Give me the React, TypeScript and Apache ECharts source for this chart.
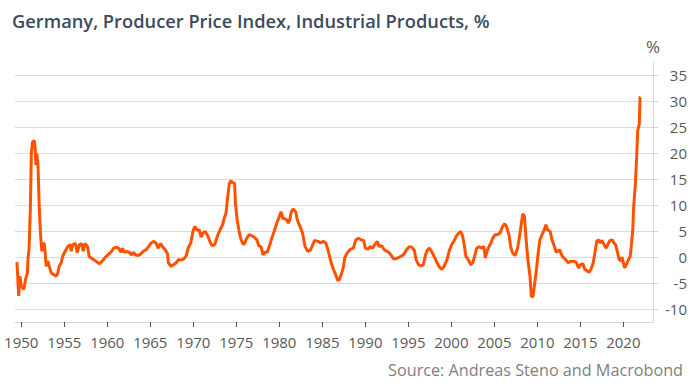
import React, { useEffect, useRef } from "react";
import * as echarts from "echarts";

const titleText = "Germany, Producer Price Index, Industrial Products, %";
const sourceText = "Source: Andreas Steno and Macrobond";
const yAxisName = "%";

const xTicks = [1950, 1955, 1960, 1965, 1970, 1975, 1980, 1985, 1990, 1995, 2000, 2005, 2010, 2015, 2020];
const yTicks = [-10, -5, 0, 5, 10, 15, 20, 25, 30, 35];

const years = [
  1949.5, 1949.7, 1949.85, 1950.0, 1950.3, 1950.5, 1950.7, 1950.8, 1950.9, 1951.05,
  1951.17, 1951.3, 1951.5, 1951.6, 1951.7, 1951.8, 1951.95, 1952.1, 1952.25, 1952.4,
  1952.55, 1952.7, 1952.9, 1953.1, 1953.25, 1953.5, 1953.8, 1954.0, 1954.2, 1954.4,
  1954.65, 1954.8, 1955.1, 1955.4, 1955.7, 1955.8, 1956.0, 1956.3, 1956.5, 1956.75,
  1957.0, 1957.2, 1957.4, 1957.7, 1957.9, 1958.2, 1958.5, 1958.85, 1959.1, 1959.4,
  1959.8, 1960.2, 1960.5, 1960.75, 1961.0, 1961.3, 1961.6, 1961.75, 1962.0, 1962.3,
  1962.55, 1962.8, 1963.0, 1963.3, 1963.6, 1963.9, 1964.2, 1964.5, 1964.8, 1965.1,
  1965.4, 1965.7, 1965.9, 1966.2, 1966.45, 1966.75, 1967.0, 1967.1, 1967.4, 1967.7,
  1968.0, 1968.3, 1968.65, 1969.0, 1969.2, 1969.4, 1969.7, 1970.0, 1970.2, 1970.4,
  1970.7, 1970.9, 1971.1, 1971.4, 1971.7, 1972.0, 1972.2, 1972.5, 1972.8, 1973.1,
  1973.4, 1973.6, 1973.8, 1974.0, 1974.2, 1974.4, 1974.5, 1974.8, 1974.9, 1975.1,
  1975.3, 1975.5, 1975.8, 1976.0, 1976.2, 1976.5, 1976.8, 1977.1, 1977.4, 1977.6,
  1977.9, 1978.1, 1978.3, 1978.6, 1978.9, 1979.2, 1979.4, 1979.7, 1980.0, 1980.2,
  1980.4, 1980.7, 1980.9, 1981.05, 1981.2, 1981.4, 1981.6, 1981.9, 1982.1, 1982.4,
  1982.7, 1983.0, 1983.3, 1983.6, 1983.8, 1984.1, 1984.5, 1984.8, 1985.1, 1985.4,
  1985.6, 1985.85, 1986.1, 1986.3, 1986.55, 1986.8, 1987.0, 1987.25, 1987.45, 1987.6,
  1987.9, 1988.2, 1988.6, 1988.9, 1989.2, 1989.5, 1989.8, 1990.0, 1990.3, 1990.55,
  1990.85, 1991.1, 1991.4, 1991.6, 1991.9, 1992.2, 1992.5, 1992.8, 1993.1, 1993.3,
  1993.65, 1993.96, 1994.3, 1994.5, 1994.8, 1995.1, 1995.4, 1995.7, 1995.9, 1996.2,
  1996.4, 1996.75, 1997.0, 1997.2, 1997.45, 1997.7, 1998.0, 1998.3, 1998.6, 1998.9,
  1999.15, 1999.5, 1999.8, 2000.05, 2000.3, 2000.55, 2000.8, 2001.1, 2001.3, 2001.5,
  2001.7, 2002.0, 2002.25, 2002.5, 2002.7, 2002.95, 2003.25, 2003.5, 2003.8, 2003.95,
  2004.1, 2004.3, 2004.6, 2004.8, 2005.1, 2005.35, 2005.66, 2005.97, 2006.2, 2006.4,
  2006.7, 2006.9, 2007.1, 2007.4, 2007.7, 2007.9, 2008.1, 2008.3, 2008.5, 2008.7,
  2008.9, 2009.15, 2009.3, 2009.5, 2009.7, 2009.9, 2010.1, 2010.3, 2010.5, 2010.8,
  2011.0, 2011.2, 2011.5, 2011.7, 2011.9, 2012.2, 2012.4, 2012.6, 2012.9, 2013.1,
  2013.3, 2013.6, 2013.9, 2014.2, 2014.5, 2014.8, 2015.0, 2015.3, 2015.5, 2015.8,
  2016.05, 2016.3, 2016.5, 2016.7, 2016.9, 2017.1, 2017.3, 2017.5, 2017.75, 2018.0,
  2018.2, 2018.45, 2018.7, 2018.9, 2019.1, 2019.3, 2019.5, 2019.7, 2019.85, 2020.0,
  2020.15, 2020.4, 2020.6, 2020.8, 2020.9, 2021.1, 2021.2, 2021.4, 2021.55, 2021.67,
  2021.86, 2021.94, 2022.0,
];

const ppi = [
  -1.0, -7.5, -3.7, -5.6, -6.2, -4.3, -3.1, 0.1, 1.4, 9.0,
  19.9, 22.1, 22.4, 21.2, 17.7, 19.9, 17.3, 9.1, 4.0, 1.1,
  2.7, 2.4, -1.8, -0.8, -1.8, -3.1, -3.4, -3.7, -3.4, -1.8,
  -1.1, 0.1, 1.1, 2.0, 2.4, 1.1, 2.4, 2.6, 0.8, 2.4,
  2.6, 1.1, 2.6, 2.0, 0.1, -0.3, -0.6, -1.0, -1.3, -0.8,
  0.0, 0.6, 1.1, 1.7, 1.9, 1.7, 0.9, 1.7, 0.9, 1.1,
  0.9, 0.4, 0.9, 0.4, 0.3, 0.6, 1.1, 1.4, 2.0, 2.7,
  3.0, 2.6, 1.7, 2.6, 1.9, 1.4, 0.6, -1.1, -1.8, -1.5,
  -1.1, -0.5, -0.6, -0.2, 0.3, 1.7, 2.7, 5.2, 5.9, 5.2,
  5.2, 3.8, 4.6, 4.9, 4.0, 2.7, 2.2, 2.4, 4.0, 5.2,
  6.2, 7.5, 8.4, 11.6, 14.2, 14.7, 14.3, 14.2, 10.3, 7.1,
  5.2, 3.6, 2.4, 2.7, 3.6, 4.3, 4.1, 3.8, 3.3, 2.2,
  1.9, 0.4, 0.9, 0.9, 2.4, 4.0, 4.9, 6.5, 7.8, 8.7,
  7.5, 7.3, 7.1, 6.5, 7.1, 8.7, 9.2, 8.7, 7.1, 5.9,
  4.6, 2.0, 1.1, 1.3, 2.0, 3.2, 3.0, 2.7, 3.0, 2.7,
  1.7, 0.1, -1.5, -2.4, -3.4, -4.5, -4.3, -3.1, -2.0, -0.2,
  0.8, 1.4, 1.7, 3.3, 3.6, 3.3, 3.2, 1.7, 1.5, 2.0,
  1.7, 2.4, 3.0, 2.0, 2.2, 1.4, 1.1, 0.8, 0.1, -0.4,
  -0.3, 0.0, 0.25, 0.6, 1.4, 2.0, 1.9, 1.3, -0.5, -1.5,
  -1.7, -1.5, 0.4, 1.3, 1.7, 1.1, 0.1, -1.0, -1.9, -2.4,
  -1.8, -0.5, 1.4, 2.4, 3.0, 3.9, 4.5, 4.9, 4.1, 2.4,
  0.1, -0.6, -1.5, -1.1, 0.1, 1.7, 2.0, 1.7, 2.0, -0.2,
  0.9, 1.7, 2.7, 3.6, 4.3, 4.3, 4.6, 5.9, 6.4, 5.9,
  4.3, 2.0, 0.9, 0.25, 1.7, 3.6, 5.9, 8.3, 7.8, 3.3,
  -0.5, -3.7, -7.6, -7.6, -5.0, -2.4, 0.8, 3.3, 4.1, 5.2,
  6.2, 5.2, 4.9, 3.3, 2.4, 0.9, 1.1, 1.4, 0.1, -0.2,
  -0.5, -1.1, -0.8, -0.8, -1.0, -2.1, -1.5, -1.3, -2.3, -2.7,
  -2.9, -2.1, -1.1, 0.8, 3.0, 3.3, 2.7, 3.2, 2.4, 1.7,
  2.4, 3.2, 3.3, 2.7, 2.4, 1.1, -0.4, -0.8, 0.0, -1.1,
  -2.1, -1.3, -0.5, 0.1, 1.7, 5.2, 9.7, 14.1, 19.2, 24.3,
  25.6, 30.7, 30.8,
];

const FONT = "'Open Sans', 'Noto Sans', sans-serif";

export default function App() {
  const ref = useRef<HTMLDivElement>(null);

  useEffect(() => {
    if (!ref.current) return;
    const chart = echarts.init(ref.current, undefined, { renderer: "svg" });
    const data = years.map((y, i) => [y, ppi[i]]);
    chart.setOption({
      animation: false,
      backgroundColor: "#ffffff",
      title: {
        text: titleText,
        left: 7,
        top: 6,
        textStyle: {
          fontFamily: FONT,
          fontSize: 18.3,
          fontWeight: 600,
          color: "#3c4a5d",
        },
      },
      graphic: [
        {
          type: "text",
          right: 7,
          top: 362,
          style: {
            text: sourceText,
            font: `16.2px ${FONT}`,
            fill: "#7f7f7f",
          },
        },
      ],
      grid: { left: 15, right: 37, top: 62, bottom: 66 },
      xAxis: {
        type: "value",
        min: 1949.27,
        max: 2023.45,
        splitLine: { show: false },
        axisLine: { show: true, onZero: false, lineStyle: { color: "#d9d9d9", width: 1 } },
        axisTick: {
          show: true,
          length: 5,
          customValues: xTicks,
          lineStyle: { color: "#44546a", width: 1 },
        },
        axisLabel: {
          customValues: xTicks,
          margin: 12,
          fontFamily: FONT,
          fontSize: 15,
          color: "#595959",
          formatter: (v: number) => String(Math.round(v)),
        },
      },
      yAxis: {
        type: "value",
        position: "right",
        min: -12.5,
        max: 37.5,
        name: yAxisName,
        nameLocation: "end",
        nameGap: 7,
        nameTextStyle: { fontFamily: FONT, fontSize: 17, color: "#595959", align: "center" },
        axisLine: { show: true, onZero: false, lineStyle: { color: "#d9d9d9", width: 1 } },
        axisTick: {
          show: true,
          length: 5,
          customValues: yTicks,
          lineStyle: { color: "#d0d0d0", width: 1 },
        },
        axisLabel: {
          customValues: yTicks,
          margin: 34,
          align: "right",
          fontFamily: FONT,
          fontSize: 15,
          color: "#595959",
        },
        splitLine: {
          show: true,
          customValues: yTicks,
          lineStyle: { color: "#dcdcdc", width: 1 },
        },
      },
      series: [
        {
          type: "line",
          data,
          showSymbol: false,
          symbol: "none",
          lineStyle: { color: "#ff5200", width: 3 },
          z: 3,
        },
      ],
    });
    return () => chart.dispose();
  }, []);

  return (
    <div
      ref={ref}
      style={{ position: "fixed", left: 0, top: 0, width: 690, height: 388, background: "#fff" }}
    />
  );
}
